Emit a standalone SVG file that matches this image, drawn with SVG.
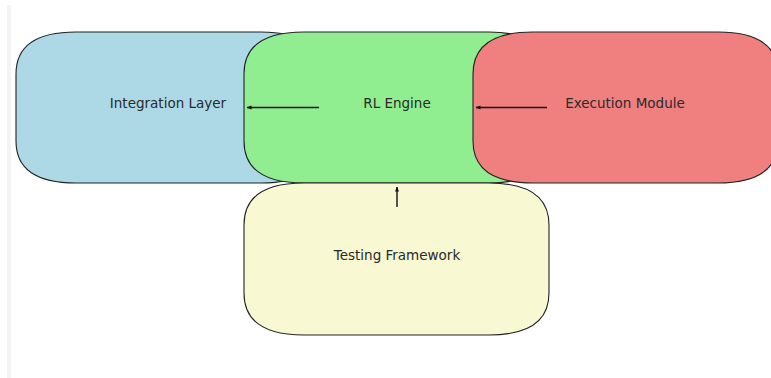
<svg xmlns="http://www.w3.org/2000/svg" width="771" height="378" viewBox="0 0 771 378">
  <style>
    .box { stroke: #222; stroke-width: 1.1; }
    .label { font-family: "DejaVu Sans", "Liberation Sans", sans-serif; font-size: 13.5px; fill: #2a2a2a; text-anchor: middle; }
    .edge { stroke: #111; stroke-width: 1.4; fill: none; marker-end: url(#head); }
  </style>
  <defs>
    <marker id="head" viewBox="0 0 10 10" refX="9" refY="5" markerWidth="5" markerHeight="5" orient="auto" markerUnits="userSpaceOnUse">
      <path d="M0,1 L10,5 L0,9 Z" fill="#111"/>
    </marker>
  </defs>

  <rect width="771" height="378" fill="#ffffff"/>
  <!-- thin margin strip on the left -->
  <rect x="7" y="5" width="4" height="373" fill="#f4f4f4"/>

  <g id="integration-layer">
    <path class="box" fill="#add8e6" d="M76,32 H261 Q321,32 321,74 V141 Q321,183 261,183 H76 Q16,183 16,141 V74 Q16,32 76,32 Z"/>
    <text class="label" x="168" y="107.5">Integration Layer</text>
  </g>

  <g id="rl-engine">
    <path class="box" fill="#90ee90" d="M304,32 H489 Q549,32 549,74 V141 Q549,183 489,183 H304 Q244,183 244,141 V74 Q244,32 304,32 Z"/>
    <text class="label" x="397" y="107.5">RL Engine</text>
  </g>

  <g id="execution-module">
    <path class="box" fill="#f08080" d="M533,32 H718 Q778,32 778,74 V141 Q778,183 718,183 H533 Q473,183 473,141 V74 Q473,32 533,32 Z"/>
    <text class="label" x="625" y="107.5">Execution Module</text>
  </g>

  <g id="testing-framework">
    <path class="box" fill="#f8f8d2" d="M304,183 H489 Q549,183 549,225 V293 Q549,335 489,335 H304 Q244,335 244,293 V225 Q244,183 304,183 Z"/>
    <text class="label" x="397" y="259.5">Testing Framework</text>
  </g>

  <g id="connectors">
    <line class="edge" x1="319" y1="107.5" x2="247" y2="107.5"/>
    <line class="edge" x1="547" y1="107.5" x2="476" y2="107.5"/>
    <line class="edge" x1="397" y1="207" x2="397" y2="187"/>
  </g>
</svg>
